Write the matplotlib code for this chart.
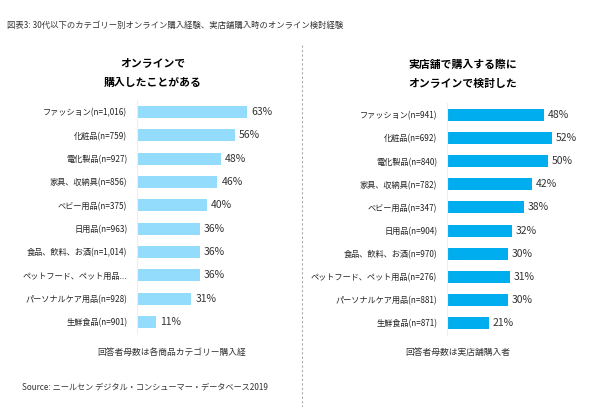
import matplotlib.pyplot as plt
from matplotlib.lines import Line2D

plt.rcParams['font.family'] = ['Noto Sans CJK JP', 'DejaVu Sans']

# data
cats_online = ['ファッション(n=1,016)', '化粧品(n=759)', '電化製品(n=927)', '家具、収納具(n=856)',
               'ベビー用品(n=375)', '日用品(n=963)', '食品、飲料、お酒(n=1,014)',
               'ペットフード、ペット用品...', 'パーソナルケア用品(n=928)', '生鮮食品(n=901)']
vals_online = [63, 56, 48, 46, 40, 36, 36, 36, 31, 11]

cats_store = ['ファッション(n=941)', '化粧品(n=692)', '電化製品(n=840)', '家具、収納具(n=782)',
              'ベビー用品(n=347)', '日用品(n=904)', '食品、飲料、お酒(n=970)',
              'ペットフード、ペット用品(n=276)', 'パーソナルケア用品(n=881)', '生鮮食品(n=871)']
vals_store = [48, 52, 50, 42, 38, 32, 30, 31, 30, 21]

W, H = 595, 407
fig = plt.figure(figsize=(W / 100, H / 100), dpi=100)


def px_axes(x0, y0, x1, y1):
    return fig.add_axes([x0 / W, 1 - y1 / H, (x1 - x0) / W, (y1 - y0) / H])


def panel(ax, cats, vals, color, xmax):
    y = list(range(len(cats)))
    ax.barh(y, vals, height=0.52, color=color)
    ax.set_xlim(0, xmax)
    ax.set_ylim(len(cats) - 0.5, -0.5)
    ax.set_yticks(y)
    ax.set_yticklabels(cats, fontsize=5.9, color='#222222')
    ax.tick_params(axis='y', length=0, pad=7)
    ax.set_xticks([])
    for s in ['top', 'right', 'bottom']:
        ax.spines[s].set_visible(False)
    ax.spines['left'].set_color('#eeeeee')
    for yi, v in zip(y, vals):
        ax.text(v + xmax * 0.03, yi, f'{v}%', va='center', ha='left', fontsize=7.5, color='#333333')


ax1 = px_axes(137, 100.3, 277, 333.7)
panel(ax1, cats_online, vals_online, '#94dcfc', 140 / 1.745)

ax2 = px_axes(447, 103.4, 567, 334.6)
panel(ax2, cats_store, vals_store, '#00adef', 120 / 2.02)

fig.text(7 / W, 1 - 25 / H, '図表3: 30代以下のカテゴリー別オンライン購入経験、実店舗購入時のオンライン検討経験',
         fontsize=6.0, va='center', ha='left', color='#333333')

fig.text(153 / W, 1 - 63 / H, 'オンラインで', fontsize=7.8, fontweight='bold', ha='center', va='center')
fig.text(153 / W, 1 - 83 / H, '購入したことがある', fontsize=7.8, fontweight='bold', ha='center', va='center')
fig.text(463 / W, 1 - 65 / H, '実店舗で購入する際に', fontsize=7.8, fontweight='bold', ha='center', va='center')
fig.text(463 / W, 1 - 84 / H, 'オンラインで検討した', fontsize=7.8, fontweight='bold', ha='center', va='center')

fig.text(172 / W, 1 - 352 / H, '回答者母数は各商品カテゴリー購入経', fontsize=6.3, ha='center', va='center', color='#333333')
fig.text(458 / W, 1 - 352 / H, '回答者母数は実店舗購入者', fontsize=6.3, ha='center', va='center', color='#333333')
fig.text(22 / W, 1 - 387 / H, 'Source: ニールセン デジタル・コンシューマー・データベース2019', fontsize=5.9,
         ha='left', va='center', color='#333333')

fig.add_artist(Line2D([302 / W, 302 / W], [1 - 45 / H, 0], color='#aaaaaa', lw=0.8,
                      linestyle=(0, (2, 2)), transform=fig.transFigure))

fig.savefig('out.png', dpi=100)
